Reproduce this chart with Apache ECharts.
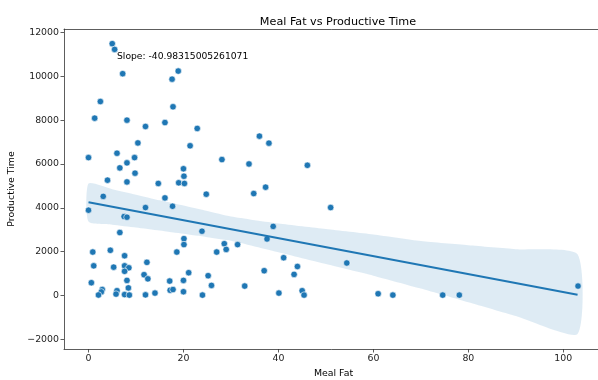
<!DOCTYPE html>
<html>
<head>
<meta charset="utf-8">
<script src="https://cdn.jsdelivr.net/npm/echarts@6/dist/echarts.min.js"></script>
<style>
html,body{margin:0;padding:0;background:#fff;}
#chart{width:598px;height:380px;}
</style>
</head>
<body>
<div id="chart"></div>
<script>
// ---- data ----
const mealFat = [5.0,5.5,7.2,17.6,18.9,2.5,17.8,1.3,8.1,12.0,16.1,22.9,10.4,21.4,0.0,6.0,8.1,9.7,6.6,9.8,
  20.0,20.1,28.1,4.0,8.1,14.7,19.0,20.2,3.1,16.1,24.8,0.0,12.0,17.7,7.5,8.1,6.6,23.9,20.1,20.1,
  0.9,4.6,18.6,27.0,28.6,29.0,31.4,7.6,1.1,5.3,7.6,8.5,7.6,12.3,11.7,12.5,21.1,25.2,25.9,0.6,
  8.1,8.4,2.9,2.7,2.1,6.0,5.8,7.6,8.6,12.0,14.0,17.1,17.2,17.8,20.0,20.0,24.0,33.8,46.1,34.8,
  37.3,51.0,38.9,37.6,41.1,44.0,54.4,37.0,43.3,32.9,40.1,45.0,45.4,61.0,64.1,36.0,38.0,74.6,78.1,103.1];
const productiveTime = [11490,11230,10120,9870,10240,8850,8610,8090,8000,7710,7890,7620,6960,6830,6290,6490,6050,6290,5820,5580,
  5780,5440,6200,5260,5180,5110,5140,5110,4520,4450,4620,3890,4010,4070,3600,3570,2870,2930,2590,2320,
  1980,2060,1980,1980,2360,2100,2320,1810,1350,1290,1350,1260,1100,1510,945,755,1036,900,457,579,
  686,343,267,160,20,213,60,38,15,25,107,655,235,267,686,168,15,6000,5940,4650,
  4940,4010,3150,2575,1720,1320,1480,1127,960,427,107,213,15,76,15,7270,6950,15,15,427];

const fitX = [0, 103];
const fitY = [4250, 29];

const bandX     = [0,    5,    10,   15,   20,   25,   30,   40,   50,   60,   70,   80,   90,   103];
const bandUpper = [5105, 4850, 4600, 4340, 4100, 3850, 3600, 3280, 3030, 2780, 2480, 2290, 2110, 1874];
const bandLower = [3370, 3230, 3100, 2960, 2810, 2660, 2500, 1970, 1430, 900,  310,  -317, -944, -1760];

const xTicks = [0, 20, 40, 60, 80, 100];
const yTicks = [-2000, 0, 2000, 4000, 6000, 8000, 10000, 12000];

const slopeText = 'Slope: -40.98315005261071';
const titleText = 'Meal Fat vs Productive Time';

// ---- chart ----
const chart = echarts.init(document.getElementById('chart'), null, {renderer: 'canvas'});
const FONT = 'DejaVu Sans';
const BLUE = '#1f77b4';
const fmt = v => String(v).replace('-', '\u2212');

const points = mealFat.map((x, i) => [x, productiveTime[i]]);
const fitLine = fitX.map((x, i) => [x, fitY[i]]);
const spine = {show: true, onZero: false, lineStyle: {color: '#333', width: 0.8}};

chart.setOption({
  animation: false,
  backgroundColor: '#fff',
  title: {
    text: titleText, left: 333, top: 12, textAlign: 'center',
    textStyle: {fontFamily: FONT, fontSize: 11.2, fontWeight: 'normal', color: '#000'}
  },
  grid: {
    left: 64, top: 29, right: -5, bottom: 31,
    outerBoundsMode: 'none', containLabel: false
  },
  xAxis: [{
    type: 'value', min: -5.16, max: 108.36,
    name: 'Meal Fat', nameLocation: 'middle', nameGap: 20,
    nameTextStyle: {fontFamily: FONT, fontSize: 9.4, color: '#000'},
    axisLine: spine,
    axisTick: {show: true, length: 3.5, lineStyle: {color: '#333', width: 0.8}, customValues: xTicks},
    axisLabel: {fontFamily: FONT, fontSize: 9.4, color: '#222', margin: 5, customValues: xTicks, formatter: fmt},
    splitLine: {show: false}
  }, {
    type: 'value', position: 'top', min: -5.16, max: 108.36,
    axisLine: spine, axisTick: {show: false}, axisLabel: {show: false}, splitLine: {show: false}
  }],
  yAxis: [{
    type: 'value', min: -2446, max: 12160,
    name: 'Productive Time', nameLocation: 'middle', nameGap: 40, nameRotate: 90,
    nameTextStyle: {fontFamily: FONT, fontSize: 9.4, color: '#000'},
    axisLine: spine,
    axisTick: {show: true, length: 3.5, lineStyle: {color: '#333', width: 0.8}, customValues: yTicks},
    axisLabel: {fontFamily: FONT, fontSize: 9.4, color: '#222', margin: 5, customValues: yTicks, formatter: fmt},
    splitLine: {show: false}
  }],
  graphic: [{
    type: 'text', left: 117, top: 52, z: 100,
    style: {text: slopeText, fontFamily: FONT, fontSize: 9.2, fill: '#000'}
  }],
  series: [
    {
      type: 'custom', z: 1, clip: true,
      data: [[bandX[0], bandUpper[0]]],
      renderItem: function (params, api) {
        const pts = [];
        for (let i = 0; i < bandX.length; i++) pts.push(api.coord([bandX[i], bandUpper[i]]));
        for (let i = bandX.length - 1; i >= 0; i--) pts.push(api.coord([bandX[i], bandLower[i]]));
        return {type: 'polygon', shape: {points: pts, smooth: 0.2}, style: {fill: 'rgba(31,119,180,0.15)', stroke: null}};
      },
      silent: true
    },
    {
      type: 'scatter', z: 2, data: points, symbolSize: 6.5,
      itemStyle: {color: BLUE, borderColor: '#fff', borderWidth: 0.6, opacity: 1}
    },
    {
      type: 'line', z: 3, data: fitLine, showSymbol: false, symbol: 'none',
      lineStyle: {color: BLUE, width: 2}
    }
  ]
});
</script>
</body>
</html>
